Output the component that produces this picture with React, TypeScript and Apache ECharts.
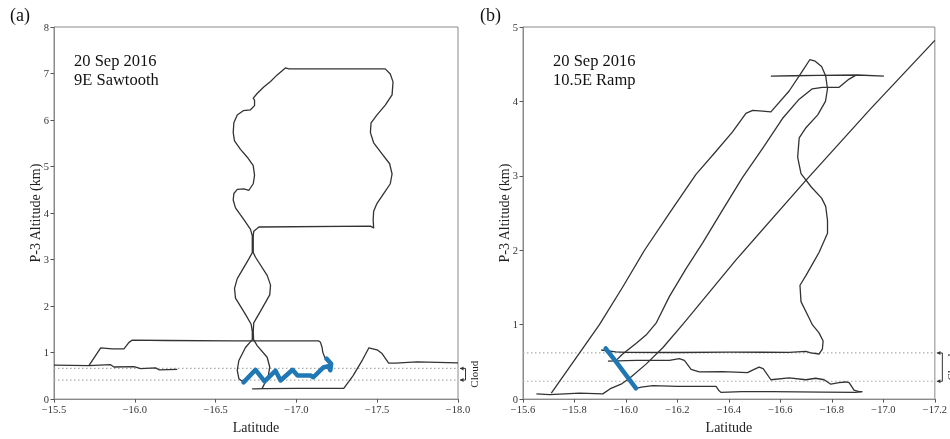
import React, { useEffect, useRef } from 'react';
import * as echarts from 'echarts';

// ---------- axes ----------
const latRangeA = [-18.0, -15.5];
const latStepA = 0.5;
const altRangeA = [0, 8];
const latRangeB = [-17.2, -15.6];
const latStepB = 0.2;
const altRangeB = [0, 5];

// ---------- annotation texts ----------
const panelTags = ['(a)', '(b)'];
const titleA = ['20 Sep 2016', '9E Sawtooth'];
const titleB = ['20 Sep 2016', '10.5E Ramp'];
const cloudLabel = 'Cloud';
const cloudA = [0.41, 0.66]; // km, cloud base / top panel (a)
const cloudB = [0.24, 0.62]; // km, cloud base / top panel (b)

// ---------- panel (a) flight track [lat, alt km] ----------
const aWestLow = [
  [-15.5, 0.73], [-15.716, 0.72], [-15.85, 0.74], [-15.871, 0.69], [-15.995, 0.7],
  [-16.036, 0.655], [-16.129, 0.67], [-16.149, 0.63], [-16.263, 0.64],
];
const aWestHigh = [
  [-15.716, 0.72], [-15.789, 1.1], [-15.861, 1.08], [-15.933, 1.08], [-15.964, 1.22],
  [-15.985, 1.27], [-16.2, 1.26], [-16.6, 1.25], [-16.9, 1.25], [-17.138, 1.25],
  [-17.149, 1.22], [-17.159, 1.11], [-17.163, 1.01], [-17.175, 0.9], [-17.186, 0.87],
];
const aColumn = [
  [-16.673, 0.36], [-16.644, 0.44], [-16.634, 0.62], [-16.644, 0.83], [-16.685, 1.11],
  [-16.727, 1.28], [-16.727, 1.45], [-16.72, 1.61], [-16.685, 1.82], [-16.623, 2.17],
  [-16.617, 2.38], [-16.634, 2.59], [-16.705, 3.01], [-16.727, 3.15], [-16.727, 3.51],
  [-16.716, 3.65], [-16.675, 3.86], [-16.623, 4.11], [-16.609, 4.28], [-16.613, 4.42],
  [-16.634, 4.51], [-16.675, 4.52], [-16.706, 4.49], [-16.733, 4.63], [-16.741, 4.81],
  [-16.733, 5.02], [-16.696, 5.2], [-16.654, 5.37], [-16.617, 5.55], [-16.609, 5.73],
  [-16.613, 5.94], [-16.634, 6.11], [-16.671, 6.2], [-16.716, 6.22], [-16.741, 6.31],
  [-16.741, 6.43], [-16.733, 6.47], [-16.757, 6.57], [-16.798, 6.71], [-16.84, 6.83],
  [-16.881, 6.97], [-16.932, 7.12], [-16.953, 7.1], [-17.55, 7.1], [-17.581, 6.99],
  [-17.598, 6.82], [-17.592, 6.54], [-17.55, 6.32], [-17.499, 6.11], [-17.462, 5.94],
  [-17.458, 5.73], [-17.478, 5.51], [-17.53, 5.27], [-17.577, 5.06], [-17.592, 4.84],
  [-17.581, 4.63], [-17.54, 4.42], [-17.499, 4.21], [-17.478, 4.04], [-17.475, 3.86],
  [-17.478, 3.68], [-17.458, 3.72], [-16.768, 3.7], [-16.736, 3.61], [-16.733, 3.51],
  [-16.733, 3.15], [-16.747, 3.05], [-16.819, 2.66], [-16.84, 2.45], [-16.835, 2.24],
  [-16.778, 1.89], [-16.736, 1.64], [-16.733, 1.45], [-16.735, 1.28], [-16.757, 1.15],
  [-16.819, 0.9], [-16.835, 0.69], [-16.825, 0.48], [-16.788, 0.23],
];
const aEastLow = [
  [-16.726, 0.22], [-16.8, 0.225], [-17.0, 0.23], [-17.293, 0.23], [-17.35, 0.5],
  [-17.41, 0.85], [-17.448, 1.1], [-17.499, 1.06], [-17.53, 0.98], [-17.571, 0.775],
  [-17.613, 0.775], [-17.746, 0.8], [-18.0, 0.78],
];
const aSample = [
  [-16.673, 0.36], [-16.747, 0.63], [-16.803, 0.38], [-16.871, 0.61], [-16.902, 0.4],
  [-16.976, 0.63], [-17.007, 0.51], [-17.087, 0.51], [-17.105, 0.47], [-17.167, 0.68],
  [-17.198, 0.71], [-17.21, 0.62], [-17.215, 0.76], [-17.186, 0.87],
];

// ---------- panel (b) flight track [lat, alt km] ----------
const bRamp1 = [
  [-15.71, 0.08], [-15.897, 1.0], [-15.988, 1.51], [-16.072, 2.0], [-16.169, 2.5],
  [-16.272, 3.02], [-16.35, 3.33], [-16.414, 3.59], [-16.466, 3.84], [-16.492, 3.88],
  [-16.531, 3.87], [-16.563, 3.86], [-16.634, 4.14], [-16.686, 4.41], [-16.714, 4.56],
  [-16.735, 4.54], [-16.76, 4.47], [-16.776, 4.34], [-16.783, 4.17], [-16.775, 4.0],
  [-16.745, 3.82], [-16.7, 3.65], [-16.673, 3.51], [-16.667, 3.25], [-16.68, 3.03],
  [-16.72, 2.85], [-16.76, 2.7], [-16.776, 2.59], [-16.783, 2.4], [-16.783, 2.23],
  [-16.75, 1.97], [-16.699, 1.66], [-16.676, 1.53], [-16.68, 1.31], [-16.71, 1.1],
  [-16.724, 1.0], [-16.75, 0.89], [-16.766, 0.78], [-16.763, 0.67], [-16.75, 0.606],
  [-16.718, 0.62], [-16.699, 0.64], [-16.634, 0.628], [-16.4, 0.632], [-16.2, 0.626],
  [-16.0, 0.628], [-15.96, 0.635], [-15.904, 0.66],
];
const bRamp2 = [
  [-15.965, 0.53], [-15.985, 0.6], [-16.04, 0.75], [-16.078, 0.86], [-16.117, 1.02],
  [-16.169, 1.38], [-16.233, 1.75], [-16.298, 2.1], [-16.375, 2.54], [-16.453, 2.98],
  [-16.531, 3.37], [-16.608, 3.77], [-16.673, 4.03], [-16.724, 4.17], [-16.763, 4.19],
  [-16.828, 4.19], [-16.867, 4.3], [-16.892, 4.35],
];
const bTopLeg = [
  [-16.563, 4.34], [-16.65, 4.345], [-16.75, 4.35], [-16.9, 4.355], [-17.002, 4.34],
];
const bRamp3 = [
  [-15.652, 0.07], [-15.703, 0.06], [-15.82, 0.08], [-15.91, 0.07], [-15.942, 0.145],
  [-15.981, 0.2], [-16.014, 0.28], [-16.078, 0.47], [-16.143, 0.69], [-16.22, 1.0],
  [-16.43, 1.88], [-16.699, 2.94], [-16.95, 3.9], [-17.2, 4.82],
];
const bMidLeg = [
  [-15.93, 0.51], [-16.039, 0.52], [-16.169, 0.52], [-16.207, 0.545], [-16.227, 0.52],
  [-16.253, 0.4], [-16.285, 0.365], [-16.375, 0.37], [-16.472, 0.356], [-16.498, 0.4],
  [-16.517, 0.43], [-16.533, 0.41], [-16.563, 0.26], [-16.634, 0.285], [-16.699, 0.26],
  [-16.737, 0.28], [-16.77, 0.26], [-16.796, 0.2], [-16.828, 0.22], [-16.854, 0.23],
  [-16.867, 0.22], [-16.886, 0.12], [-16.905, 0.1], [-16.918, 0.1],
];
const bLowLeg = [
  [-16.039, 0.145], [-16.06, 0.16], [-16.104, 0.18], [-16.2, 0.17], [-16.285, 0.17],
  [-16.35, 0.17], [-16.36, 0.12], [-16.369, 0.09], [-16.45, 0.1], [-16.569, 0.1],
  [-16.763, 0.095], [-16.892, 0.09], [-16.918, 0.1],
];
const bSample = [
  [-15.921, 0.68], [-15.962, 0.5], [-16.001, 0.32], [-16.039, 0.145],
];

const FONT = "'Liberation Serif', 'Times New Roman', Times, serif";
const BLACK = '#333333';
const BLUE = '#1f77b4';
const FRAME = '#8a8a8a';

const latFmt = (v: number) => (v < 0 ? '\u2212' : '') + Math.abs(v).toFixed(1);

function track(data: number[][], idx: number) {
  return {
    type: 'line', xAxisIndex: idx, yAxisIndex: idx, data, showSymbol: false, symbol: 'none',
    lineStyle: { color: BLACK, width: 1.3, join: 'round' }, z: 3, silent: true,
  };
}
function sample(data: number[][], idx: number) {
  return {
    type: 'line', xAxisIndex: idx, yAxisIndex: idx, data, showSymbol: false, symbol: 'none',
    lineStyle: { color: BLUE, width: 4.5, cap: 'round', join: 'round' }, z: 5, silent: true,
  };
}
function dotted(lat: number[], alt: number, idx: number) {
  return {
    type: 'line', xAxisIndex: idx, yAxisIndex: idx, data: [[lat[0], alt], [lat[1], alt]],
    showSymbol: false, symbol: 'none',
    lineStyle: { color: '#aaaaaa', width: 1.2, type: [1.5, 2.5] }, z: 2, silent: true,
  };
}

function xAxisCfg(idx: number, range: number[], step: number) {
  return {
    type: 'value', gridIndex: idx, min: range[0], max: range[1], interval: step, inverse: true,
    name: 'Latitude', nameLocation: 'middle', nameGap: 18,
    nameTextStyle: { fontFamily: FONT, fontSize: 14, color: '#222' },
    axisLine: { show: true, onZero: false, lineStyle: { color: FRAME } },
    axisTick: { show: true, length: 3.5, lineStyle: { color: '#555' } },
    axisLabel: { formatter: latFmt, fontFamily: FONT, fontSize: 10.5, color: '#333', margin: 5 },
    splitLine: { show: false },
  };
}
function yAxisCfg(idx: number, range: number[], gap: number) {
  return {
    type: 'value', gridIndex: idx, min: range[0], max: range[1], interval: 1,
    name: 'P-3 Altitude (km)', nameLocation: 'middle', nameGap: gap, nameMoveOverlap: false,
    nameTextStyle: { fontFamily: FONT, fontSize: 14, color: '#222' },
    axisLine: { show: true, onZero: false, lineStyle: { color: FRAME } },
    axisTick: { show: true, length: 3.5, lineStyle: { color: '#555' } },
    axisLabel: { fontFamily: FONT, fontSize: 10.5, color: '#333', margin: 5 },
    splitLine: { show: false },
  };
}

export default function App() {
  const ref = useRef<HTMLDivElement>(null);
  useEffect(() => {
    const chart = echarts.init(ref.current!, null, { renderer: 'svg' });
    chart.setOption({
      animation: false,
      grid: [
        { left: 54, top: 27, width: 404, height: 379, show: true, borderColor: FRAME, borderWidth: 1 },
        { left: 523, top: 27, width: 413, height: 379, show: true, borderColor: FRAME, borderWidth: 1 },
      ],
      xAxis: [xAxisCfg(0, latRangeA, latStepA), xAxisCfg(1, latRangeB, latStepB)],
      yAxis: [yAxisCfg(0, altRangeA, 12), yAxisCfg(1, altRangeB, 11.5)],
      series: [
        dotted([latRangeA[1], latRangeA[0]], cloudA[0], 0),
        dotted([latRangeA[1], latRangeA[0]], cloudA[1], 0),
        track(aWestLow, 0), track(aWestHigh, 0), track(aColumn, 0), track(aEastLow, 0),
        sample(aSample, 0),
        dotted([latRangeB[1], latRangeB[0]], cloudB[0], 1),
        dotted([latRangeB[1], latRangeB[0]], cloudB[1], 1),
        track(bRamp1, 1), track(bRamp2, 1), track(bTopLeg, 1), track(bRamp3, 1),
        track(bMidLeg, 1), track(bLowLeg, 1),
        sample(bSample, 1),
      ],
    });

    const graphics: any[] = [];
    const bracket = (grid: number, lat: number, cloud: number[]) => {
      const pTop = chart.convertToPixel({ gridIndex: grid }, [lat, cloud[1]]) as number[];
      const pBot = chart.convertToPixel({ gridIndex: grid }, [lat, cloud[0]]) as number[];
      const x0 = pTop[0] + 2;
      const xv = pTop[0] + 7.5;
      const st = { stroke: '#333', lineWidth: 1, fill: 'none' };
      graphics.push({ type: 'polyline', shape: { points: [[x0, pTop[1]], [xv, pTop[1]], [xv, pBot[1]], [x0, pBot[1]]] }, style: st });
      [pTop[1], pBot[1]].forEach((y) => {
        graphics.push({ type: 'polygon', shape: { points: [[x0, y], [x0 + 3.5, y - 2], [x0 + 3.5, y + 2]] }, style: { fill: '#333' } });
      });
      graphics.push({
        type: 'text', x: xv + 8.5, y: (pTop[1] + pBot[1]) / 2, rotation: Math.PI / 2,
        style: { text: cloudLabel, font: `11px ${FONT}`, fill: '#222', align: 'center', verticalAlign: 'middle' },
      });
    };
    bracket(0, latRangeA[0], cloudA);
    bracket(1, latRangeB[0], cloudB);

    const txt = (x: number, y: number, s: string, size: number) => ({
      type: 'text', x, y,
      style: { text: s, font: `${size}px ${FONT}`, fill: '#111', align: 'left', verticalAlign: 'middle' },
    });
    graphics.push(txt(10, 15, panelTags[0], 18));
    graphics.push(txt(480, 15, panelTags[1], 18));
    graphics.push(txt(74, 60, titleA[0], 16.5));
    graphics.push(txt(74, 79, titleA[1], 16.5));
    graphics.push(txt(553, 60, titleB[0], 16.5));
    graphics.push(txt(553, 79, titleB[1], 16.5));
    chart.setOption({ graphic: graphics });

    return () => chart.dispose();
  }, []);
  return <div ref={ref} style={{ position: 'fixed', left: 0, top: 0, width: 950, height: 439 }} />;
}
